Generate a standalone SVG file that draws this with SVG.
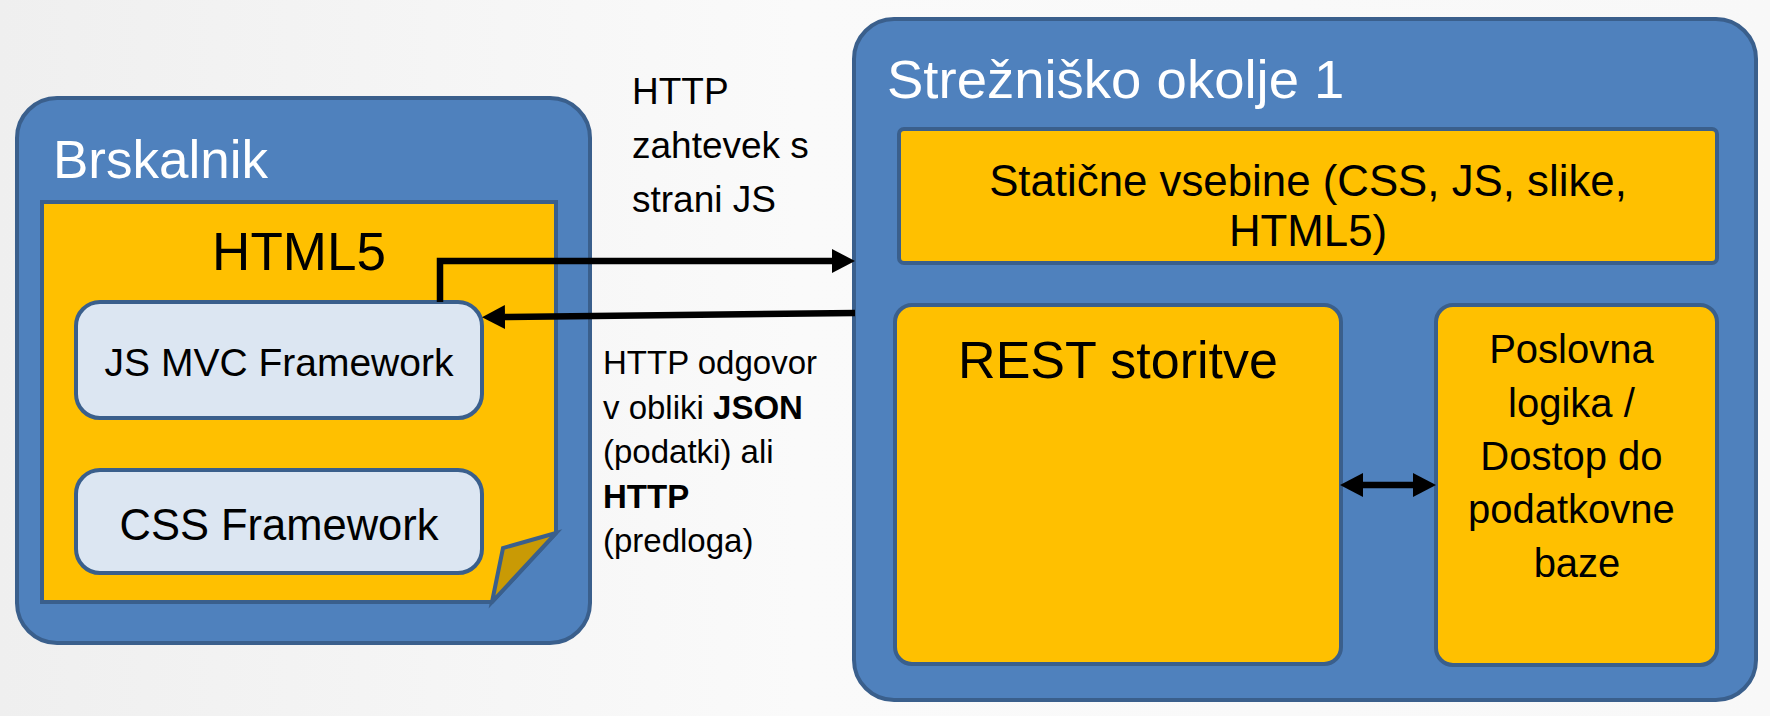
<svg xmlns="http://www.w3.org/2000/svg" width="1770" height="716" viewBox="0 0 1770 716">
<defs>
<linearGradient id="bg" x1="0" y1="0" x2="1" y2="0">
<stop offset="0" stop-color="#EFEFEF"/>
<stop offset="0.45" stop-color="#FAFAFA"/>
<stop offset="1" stop-color="#F8F8F8"/>
</linearGradient>
<marker id="ah" viewBox="0 0 23 24" refX="0" refY="12" markerWidth="23" markerHeight="24" markerUnits="userSpaceOnUse" orient="auto-start-reverse">
<path d="M0,0 L23,12 L0,24 Z" fill="#000"/>
</marker>
<style>
.outer{fill:#4F81BD;stroke:#3A5F8C;stroke-width:4}
.yel{fill:#FFC000;stroke:#3A5F8C;stroke-width:4}
.lt{fill:#DCE6F2;stroke:#3A5F8C;stroke-width:4}
.t{font-family:"Liberation Sans",Arial,sans-serif;fill:#000}
.w{font-family:"Liberation Sans",Arial,sans-serif;fill:#FFFFFF}
.c{text-anchor:middle}
.conn{fill:none;stroke:#000;stroke-width:6.5}
</style>
</defs>
<rect x="0" y="0" width="1770" height="716" fill="url(#bg)"/>

<g id="brskalnik">
<rect class="outer" x="17" y="98" width="573" height="545" rx="40" ry="40"/>
<text class="w" x="53" y="178" font-size="53">Brskalnik</text>
</g>

<g id="html5">
<path class="yel" d="M42,202 H556 V533 L492,602 H42 Z"/>
<path d="M556,533 L503,548 L492,602 Z" fill="#C99A05" stroke="#3A5F8C" stroke-width="4" stroke-linejoin="miter"/>
<text class="t c" x="299" y="270" font-size="53">HTML5</text>
</g>

<g id="jsmvc">
<rect class="lt" x="76" y="302" width="406" height="116" rx="24" ry="24"/>
<text class="t c" x="279" y="376" font-size="39">JS MVC Framework</text>
</g>

<g id="cssfw">
<rect class="lt" x="76" y="470" width="406" height="103" rx="24" ry="24"/>
<text class="t c" x="279" y="540" font-size="43.5">CSS Framework</text>
</g>

<g id="streznik">
<rect class="outer" x="854" y="19" width="902" height="681" rx="40" ry="40"/>
<text class="w" x="887" y="98" font-size="54.5">Strežniško okolje 1</text>
</g>

<g id="staticne">
<rect class="yel" x="899" y="129" width="818" height="134" rx="5" ry="5"/>
<text class="t c" x="1308" y="196" font-size="43.8">Statične vsebine (CSS, JS, slike,</text>
<text class="t c" x="1308" y="246" font-size="43.8">HTML5)</text>
</g>

<g id="rest">
<rect class="yel" x="895" y="305" width="446" height="359" rx="17" ry="17"/>
<text class="t c" x="1118" y="378" font-size="52">REST storitve</text>
</g>

<g id="poslovna">
<rect class="yel" x="1436" y="305" width="281" height="360" rx="17" ry="17"/>
<text class="t c" font-size="40">
<tspan x="1577" y="363">Poslovna</tspan>
<tspan x="1577" y="417">logika /</tspan>
<tspan x="1577" y="470">Dostop do</tspan>
<tspan x="1577" y="523">podatkovne</tspan>
<tspan x="1577" y="577">baze</tspan>
</text>
</g>

<g id="labels">
<text class="t" font-size="37">
<tspan x="632" y="104">HTTP</tspan>
<tspan x="632" y="158">zahtevek s</tspan>
<tspan x="632" y="212">strani JS</tspan>
</text>
<text class="t" font-size="33">
<tspan x="603" y="374">HTTP odgovor</tspan>
<tspan x="603" y="418.5">v obliki <tspan font-weight="bold">JSON</tspan></tspan>
<tspan x="603" y="463">(podatki) ali</tspan>
<tspan x="603" y="507.5" font-weight="bold">HTTP</tspan>
<tspan x="603" y="552">(predloga)</tspan>
</text>
</g>

<g id="connectors">
<path class="conn" d="M440,302 V261 H832" marker-end="url(#ah)"/>
<path class="conn" d="M855,313 L505,317" marker-end="url(#ah)"/>
<path class="conn" d="M1363,485 H1413" marker-start="url(#ah)" marker-end="url(#ah)"/>
</g>
</svg>
